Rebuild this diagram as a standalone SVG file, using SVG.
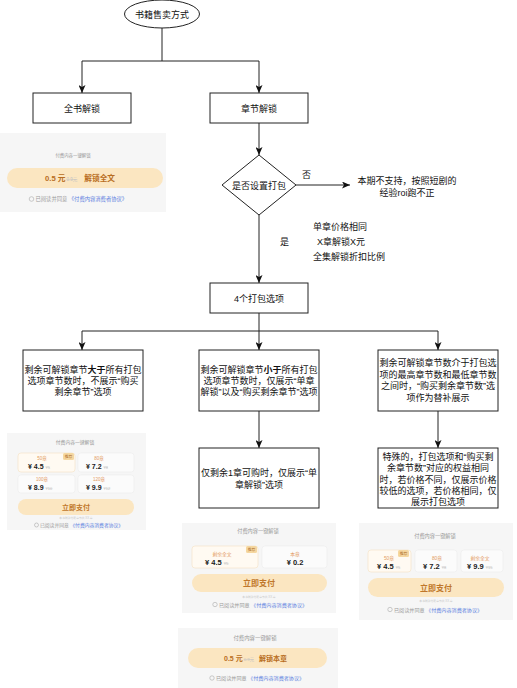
<svg xmlns="http://www.w3.org/2000/svg" width="517" height="688" viewBox="0 0 517 688">
<defs>
<marker id="arr" markerUnits="userSpaceOnUse" markerWidth="8" markerHeight="7" refX="8" refY="3.5" orient="auto">
<path d="M0,0 L8,3.5 L0,7 L2,3.5 Z" fill="#111"/>
</marker>
</defs>
<style>
text{font-family:"Liberation Sans","Noto Sans CJK SC",sans-serif;}
.n{fill:#fff;stroke:#222;stroke-width:1;}
.t{font-size:9px;fill:#111;text-anchor:middle;}
.ts{font-size:9px;fill:#111;}
.c{fill:none;stroke:#222;stroke-width:1;}
.bg{fill:#f6f6f6;}
.ttl{fill:#999;text-anchor:middle;}
.ob{fill:#fbfbfb;stroke:#ececec;stroke-width:0.6;}
.obs{fill:#fffaf2;stroke:#f5e0c2;stroke-width:0.6;}
.lb{fill:#e39a62;text-anchor:middle;}
.pr{fill:#1a1a1a;font-weight:bold;}
.st{fill:#c2c2c2;text-decoration:line-through;}
.bd{fill:#f5d7a0;}
.bdt{fill:#ad6f2a;font-size:3.8px;text-anchor:middle;}
.pill{fill:#fbe6c1;}
.pay{fill:#c0772a;font-weight:bold;text-anchor:middle;}
.tiny{fill:#c8c8c8;font-size:2.8px;text-anchor:middle;}
.ck{fill:none;stroke:#aaa;stroke-width:0.6;}
.gr{fill:#9a9a9a;}
.bl{fill:#5a7ee0;}
.ob2{fill:#b86d22;font-weight:bold;}
</style>

<g id="connectors">
<path class="c" d="M162,28 V61" stroke="#888"/>
<path class="c" d="M82,61 H259"/>
<path class="c" d="M82,61 V93" marker-end="url(#arr)"/>
<path class="c" d="M259,61 V93" marker-end="url(#arr)"/>
<path class="c" d="M259,123 V155" marker-end="url(#arr)"/>
<path class="c" d="M296,185 H350" marker-end="url(#arr)"/>
<path class="c" d="M259,215 V283" marker-end="url(#arr)"/>
<path class="c" d="M259,313 V331"/>
<path class="c" d="M82,331 H438"/>
<path class="c" d="M82,331 V350" marker-end="url(#arr)"/>
<path class="c" d="M259,331 V350" marker-end="url(#arr)"/>
<path class="c" d="M438,331 V350" marker-end="url(#arr)"/>
<path class="c" d="M259,411 V448" marker-end="url(#arr)"/>
<path class="c" d="M438,411 V448" marker-end="url(#arr)"/>
<text class="ts" x="302" y="178">否</text>
<text class="ts" x="280" y="245">是</text>
</g>

<g id="start">
<ellipse class="n" cx="162" cy="14" rx="37.5" ry="14"/>
<text class="t" x="162" y="17.5">书籍售卖方式</text>
</g>
<g id="full">
<rect class="n" x="33" y="93" width="98" height="30"/>
<text class="t" x="82" y="111.5">全书解锁</text>
</g>
<g id="chapter">
<rect class="n" x="210" y="93" width="98" height="30"/>
<text class="t" x="259" y="111.5">章节解锁</text>
</g>
<g id="decision">
<path class="n" d="M259,155 L296,185 L259,215 L222,185 Z"/>
<text class="t" x="259" y="188.5">是否设置打包</text>
</g>
<g id="note-no">
<text class="t" x="407" y="184">本期不支持，按照短剧的</text>
<text class="t" x="407" y="195.5">经验roi跑不正</text>
</g>
<g id="note-yes">
<text class="ts" x="313" y="230">单章价格相同</text>
<text class="ts" x="317" y="245">X章解锁X元</text>
<text class="ts" x="313" y="260">全集解锁折扣比例</text>
</g>
<g id="options">
<rect class="n" x="210" y="283" width="98" height="30"/>
<text class="t" x="259" y="301.5">4个打包选项</text>
</g>
<g id="case-more">
<rect class="n" x="23" y="350" width="120" height="61"/>
<text class="t" x="83" y="373">剩余可解锁章节<tspan font-weight="bold">大于</tspan>所有打包</text>
<text class="t" x="83" y="384">选项章节数时，不展示“购买</text>
<text class="t" x="83" y="395">剩余章节”选项</text>
</g>
<g id="case-less">
<rect class="n" x="199" y="350" width="120" height="61"/>
<text class="t" x="259" y="373">剩余可解锁章节<tspan font-weight="bold">小于</tspan>所有打包</text>
<text class="t" x="259" y="384">选项章节数时，仅展示“单章</text>
<text class="t" x="259" y="395">解锁”以及“购买剩余章节”选项</text>
</g>
<g id="case-between">
<rect class="n" x="378" y="350" width="120" height="61" stroke="#777"/>
<text class="t" x="438" y="366" fill="#333">剩余可解锁章节数介于打包选</text>
<text class="t" x="438" y="377.5" fill="#333">项的最高章节数和最低章节数</text>
<text class="t" x="438" y="389" fill="#333">之间时，“购买剩余章节数”选</text>
<text class="t" x="438" y="400.5" fill="#333">项作为替补展示</text>
</g>
<g id="case-one">
<rect class="n" x="199" y="448" width="120" height="60"/>
<text class="t" x="259" y="476">仅剩余1章可购时，仅展示“单</text>
<text class="t" x="259" y="488">章解锁”选项</text>
</g>
<g id="case-special">
<rect class="n" x="378" y="448" width="120" height="60" stroke="#555"/>
<text class="t" x="438" y="460">特殊的，打包选项和“购买剩</text>
<text class="t" x="438" y="471.3">余章节数”对应的权益相同</text>
<text class="t" x="438" y="482.6">时，若价格不同，仅展示价格</text>
<text class="t" x="438" y="494">较低的选项，若价格相同，仅</text>
<text class="t" x="438" y="505.3">展示打包选项</text>
</g>

<g id="card-full">
<rect class="bg" x="0" y="133" width="166" height="79"/>
<text class="ttl" x="73" y="157" font-size="4.4">付费内容一键解锁</text>
<rect class="pill" x="7" y="168" width="156" height="20" rx="10"/>
<text x="45" y="181" font-size="7.7"><tspan class="ob2">0.5 元</tspan><tspan class="st" font-size="4.5" dx="1">0.9元</tspan><tspan class="ob2" dx="7">解锁全文</tspan></text>
<circle class="ck" cx="31.5" cy="199" r="2.3"/>
<text x="35.5" y="201" font-size="5.3"><tspan class="gr">已阅读并同意</tspan><tspan class="bl" dx="1.5">《付费内容消费者协议》</tspan></text>
</g>

<g id="card-four">
<rect class="bg" x="7" y="433" width="139" height="97"/>
<text class="ttl" x="75" y="443.5" font-size="4.8">付费内容一键解锁</text>
<rect class="obs" x="18" y="453" width="57" height="19" rx="3"/>
<rect class="ob" x="78" y="453" width="56" height="19" rx="3"/>
<rect class="ob" x="18" y="475" width="57" height="18" rx="3"/>
<rect class="ob" x="78" y="475" width="56" height="18" rx="3"/>
<rect class="bd" x="63" y="453" width="11" height="7" rx="1.5"/>
<text class="bdt" x="68.5" y="458.2">推荐</text>
<text class="lb" x="42" y="459.5" font-size="4.5">50章</text>
<text class="lb" x="99" y="459.5" font-size="4.5">80章</text>
<text class="lb" x="42" y="481" font-size="4.5">100章</text>
<text class="lb" x="99" y="481" font-size="4.5">120章</text>
<text x="28" y="468.5" font-size="7"><tspan class="pr">¥ 4.5</tspan><tspan class="st" font-size="4" dx="2">¥5</tspan></text>
<text x="86" y="468.5" font-size="7"><tspan class="pr">¥ 7.2</tspan><tspan class="st" font-size="4" dx="2">¥8</tspan></text>
<text x="28" y="490" font-size="7"><tspan class="pr">¥ 8.9</tspan><tspan class="st" font-size="4" dx="2">¥10</tspan></text>
<text x="86" y="490" font-size="7"><tspan class="pr">¥ 9.9</tspan><tspan class="st" font-size="4" dx="2">¥12</tspan></text>
<rect class="pill" x="18" y="499" width="116" height="16" rx="8"/>
<text class="pay" x="76" y="509.5" font-size="7">立即支付</text>
<text class="tiny" x="76" y="518.5">本书剩余付费章节共 XX 章</text>
<circle class="ck" cx="36.5" cy="525" r="2"/>
<text x="40" y="526.8" font-size="4.8"><tspan class="gr">已阅读并同意</tspan><tspan class="bl" dx="1.5">《付费内容消费者协议》</tspan></text>
</g>

<g id="card-two">
<rect class="bg" x="182" y="523" width="154" height="90"/>
<text class="ttl" x="258" y="533" font-size="5.2">付费内容一键解锁</text>
<rect class="obs" x="192" y="546" width="66" height="22" rx="3"/>
<rect class="ob" x="262" y="546" width="65" height="22" rx="3"/>
<rect class="bd" x="246" y="546" width="11" height="7" rx="1.5"/>
<text class="bdt" x="251.5" y="551.2">推荐</text>
<text class="lb" x="222" y="555.5" font-size="4.8">剩余全文</text>
<text class="lb" x="295" y="555.5" font-size="4.8">本章</text>
<text x="205" y="564.5" font-size="7.5"><tspan class="pr">¥ 4.5</tspan><tspan class="st" font-size="4.3" dx="2">¥5</tspan></text>
<text class="pr" x="295" y="564.5" font-size="7.5" text-anchor="middle">¥ 0.2</text>
<rect class="pill" x="192" y="574" width="135" height="18" rx="9"/>
<text class="pay" x="259" y="586" font-size="8">立即支付</text>
<text class="tiny" x="259" y="597.5">本书剩余付费章节共 XX 章</text>
<circle class="ck" cx="215" cy="604.5" r="2.2"/>
<text x="219" y="606.5" font-size="5.1"><tspan class="gr">已阅读并同意</tspan><tspan class="bl" dx="1.5">《付费内容消费者协议》</tspan></text>
</g>

<g id="card-three">
<rect class="bg" x="359" y="523" width="154" height="97"/>
<text class="ttl" x="435" y="538" font-size="5.2">付费内容一键解锁</text>
<rect class="obs" x="368" y="550" width="43" height="22" rx="3"/>
<rect class="ob" x="415" y="550" width="42" height="22" rx="3"/>
<rect class="ob" x="461" y="550" width="42" height="22" rx="3"/>
<rect class="bd" x="398" y="550" width="11" height="7" rx="1.5"/>
<text class="bdt" x="403.5" y="555.2">推荐</text>
<text class="lb" x="389" y="559.5" font-size="4.8">50章</text>
<text class="lb" x="437" y="559.5" font-size="4.8">80章</text>
<text class="lb" x="480" y="559.5" font-size="4.8">剩余全文</text>
<text x="377" y="568.5" font-size="7.5"><tspan class="pr">¥ 4.5</tspan><tspan class="st" font-size="4" dx="2">¥5</tspan></text>
<text x="423" y="568.5" font-size="7.5"><tspan class="pr">¥ 7.2</tspan><tspan class="st" font-size="4" dx="2">¥8</tspan></text>
<text x="467" y="568.5" font-size="7.5"><tspan class="pr">¥ 9.9</tspan><tspan class="st" font-size="4" dx="2">¥15</tspan></text>
<rect class="pill" x="368" y="578" width="136" height="19" rx="9.5"/>
<text class="pay" x="436" y="590.5" font-size="8">立即支付</text>
<text class="tiny" x="436" y="601.5">本书剩余付费章节共 XX 章</text>
<circle class="ck" cx="390" cy="609.5" r="2.2"/>
<text x="394" y="611.5" font-size="5.1"><tspan class="gr">已阅读并同意</tspan><tspan class="bl" dx="1.5">《付费内容消费者协议》</tspan></text>
</g>

<g id="card-single">
<rect class="bg" x="178" y="628" width="160" height="60"/>
<text class="ttl" x="255" y="639.5" font-size="5.4">付费内容一键解锁</text>
<rect class="pill" x="188" y="648" width="139" height="20" rx="10"/>
<text x="224" y="661" font-size="7"><tspan class="ob2">0.5 元</tspan><tspan class="st" font-size="4.3" dx="1">0.9元</tspan><tspan class="ob2" dx="5">解锁本章</tspan></text>
<circle class="ck" cx="212" cy="678" r="2.2"/>
<text x="216" y="680" font-size="5.1"><tspan class="gr">已阅读并同意</tspan><tspan class="bl" dx="1.5">《付费内容消费者协议》</tspan></text>
</g>
</svg>
